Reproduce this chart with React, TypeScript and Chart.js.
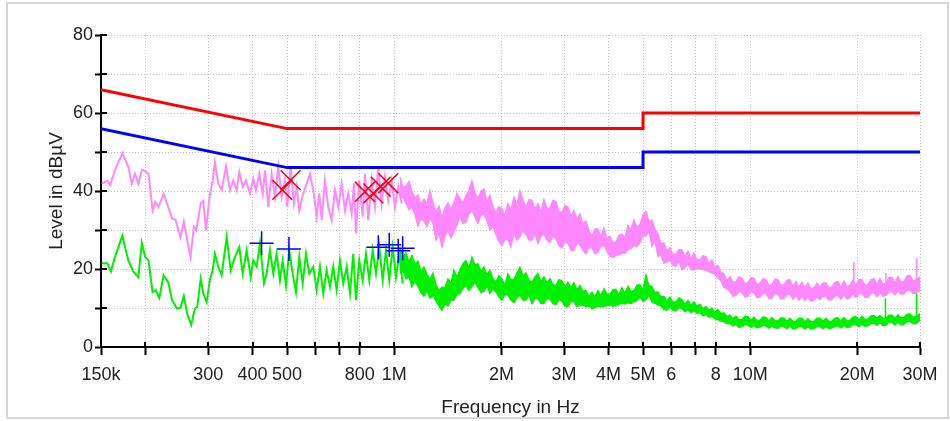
import React, { useEffect, useRef } from "react";
import { Chart, registerables } from "chart.js";

Chart.register(...registerables);

// ---- axis ticks ----
const xTickValues = [0.15, 0.2, 0.3, 0.4, 0.5, 0.6, 0.7, 0.8, 1, 2, 3, 4, 5, 6, 7, 8, 10, 20, 30];
const xTickLabels = ["150k", "", "300", "400", "500", "", "", "800", "1M", "2M", "3M", "4M", "5M", "6", "", "8", "10M", "20M", "30M"];
const yTickValues = [0, 10, 20, 30, 40, 50, 60, 70, 80];
const yTickLabels = ["0", "", "20", "", "40", "", "60", "", "80"];

// ---- limit lines (MHz, dBµV) ----
const limitFreq = [0.15, 0.5, 5, 5, 30];
const qpLimit = [66, 56, 56, 60, 60];
const avLimit = [56, 46, 46, 50, 50];

// ---- peak trace (pink), low-frequency part (kHz) ----
const peakFreqKHz = [150.7, 156.0, 159.0, 164.2, 172.2, 179.0, 183.0, 186.9, 191.0, 195.3, 199.6, 204.0, 209.4, 213.1, 217.7, 224.9, 229.9, 237.6, 242.7, 250.8, 256.3, 262.0, 267.6, 273.5, 277.8, 285.9, 290.7, 295.8, 302.2, 308.9, 313.5, 320.3, 327.4, 336.7, 345.5, 352.9, 360.8, 367.0, 375.1, 383.2, 393.2, 401.7, 408.8, 417.6, 426.9, 433.3, 442.6, 452.4, 462.2, 472.2, 482.7, 493.1, 500.5, 511.6, 522.6, 531.9, 540.9, 555.1, 567.4, 579.7, 592.2, 605.3, 615.6, 625.2, 638.7, 652.5, 667.0, 681.4, 696.1, 711.6, 727.0, 742.7, 759.1, 770.5, 780.6, 797.5, 815.1, 827.3, 845.2, 864.0, 882.6, 901.7, 921.7, 941.6, 961.9, 983.3, 1004.5, 1026, 1049];
const peakLevel = [41.9, 42.6, 41.5, 45.3, 49.7, 46.2, 41.9, 44.4, 41.9, 45.5, 45.1, 44.4, 35.0, 37.2, 35.9, 39.3, 36.8, 32.9, 32.7, 28.2, 32.1, 27.4, 23.1, 30.8, 29.9, 36.8, 37.5, 29.9, 38.0, 42.7, 47.4, 41.9, 40.2, 46.3, 40.2, 42.7, 40.2, 44.9, 41.1, 42.7, 39.3, 43.2, 40.2, 44.4, 39.3, 45.3, 35.9, 44.4, 38.5, 46.2, 38.5, 42.7, 35.9, 46.2, 36.8, 41.1, 35.0, 39.4, 41.9, 44.4, 40.2, 33.4, 39.4, 32.5, 42.7, 35.9, 32.5, 40.2, 35.9, 41.9, 35.0, 39.4, 34.2, 41.9, 29.1, 42.7, 33.4, 44.4, 32.5, 42.7, 35.9, 46.2, 36.8, 43.6, 37.6, 42.7, 35.9, 41.1, 36.8];

// ---- average trace (green), low-frequency part (kHz) ----
const avgFreqKHz = [150.7, 156.2, 160.0, 164.2, 172.2, 179.0, 184.9, 191.0, 195.3, 199.6, 204.0, 209.4, 214.0, 218.7, 224.9, 231.5, 237.6, 245.5, 250.8, 256.3, 262.0, 268.9, 275.2, 279.6, 285.9, 290.7, 297.1, 303.6, 308.9, 313.5, 320.3, 327.4, 338.2, 347.1, 356.8, 367.0, 375.1, 384.9, 395.0, 401.7, 410.6, 419.5, 430.5, 438.1, 447.5, 457.2, 467.3, 477.4, 485.8, 496.3, 507.0, 518.3, 529.5, 540.9, 553.0, 564.9, 577.1, 592.2, 605.3, 618.4, 631.7, 645.8, 659.7, 674.0, 688.9, 703.8, 719.0, 735.0, 750.9, 767.0, 780.6, 797.5, 815.1, 832.7, 850.7, 869.6, 888.4, 907.6, 927.8, 947.7, 968.2, 989.8, 1011, 1033, 1056];
const avgLevel = [21.5, 21.5, 19.4, 23.1, 28.5, 22.2, 19.4, 17.9, 26.7, 23.1, 22.2, 14.1, 14.5, 12.6, 18.4, 16.7, 12.0, 9.8, 10.1, 13.0, 8.5, 5.7, 9.8, 10.3, 17.5, 13.7, 11.5, 17.4, 19.7, 23.9, 20.6, 18.4, 28.2, 19.7, 23.1, 25.6, 18.8, 24.8, 17.9, 22.2, 20.6, 26.6, 16.3, 18.8, 24.8, 18.8, 23.9, 17.1, 22.2, 15.8, 24.8, 18.8, 14.1, 23.1, 16.3, 23.9, 18.8, 20.6, 14.6, 20.6, 13.7, 19.7, 15.4, 20.6, 14.6, 22.2, 16.3, 20.6, 13.7, 23.9, 12.0, 22.2, 17.1, 23.9, 17.1, 24.8, 18.8, 25.6, 17.1, 24.8, 17.1, 25.6, 17.9, 23.9, 16.3];

// ---- dense part (1 MHz .. 30 MHz): band envelopes (MHz) ----
const bandFreq = [
  1.0375, 1.0578, 1.0786, 1.0997, 1.1213, 1.1433, 1.1656, 1.1884, 1.2117, 1.2354,
  1.2597, 1.2844, 1.3095, 1.3352, 1.3614, 1.3881, 1.4152, 1.4429, 1.4712, 1.5,
  1.5294, 1.5594, 1.59, 1.6211, 1.6529, 1.6853, 1.7183, 1.752, 1.7863, 1.8213,
  1.857, 1.8934, 1.9305, 1.9683, 2.0069, 2.0462, 2.0863, 2.1272, 2.1689, 2.2114,
  2.2547, 2.2989, 2.3439, 2.3898, 2.4367, 2.4844, 2.5331, 2.5827, 2.6334, 2.685,
  2.7376, 2.7912, 2.8459, 2.9017, 2.9586, 3.0166, 3.0757, 3.136, 3.1974, 3.26,
  3.3239, 3.389, 3.4555, 3.5232, 3.5922, 3.6626, 3.7344, 3.8076, 3.8822, 3.9583,
  4.0358, 4.1149, 4.1955, 4.2777, 4.3616, 4.447, 4.5342, 4.623, 4.7136, 4.8059,
  4.9002, 4.9962, 5.0941, 5.1939, 5.2957, 5.3995, 5.5053, 5.6132, 5.7232, 5.8353,
  5.9497, 6.0663, 6.1851, 6.3063, 6.4299, 6.5559, 6.6844, 6.8154, 6.9489, 7.0851,
  7.2239, 7.3654, 7.5098, 7.657, 7.807, 7.96, 8.116, 8.275, 8.4372, 8.6025,
  8.7711, 8.943, 9.1182, 9.2969, 9.4791, 9.6648, 9.8542, 10.047, 10.244, 10.445,
  10.65, 10.859, 11.071, 11.288, 11.509, 11.735, 11.965, 12.199, 12.438, 12.682,
  12.931, 13.184, 13.442, 13.705, 13.974, 14.248, 14.527, 14.812, 15.102, 15.398,
  15.7, 16.008, 16.321, 16.641, 16.967, 17.299, 17.638, 17.984, 18.336, 18.695,
  19.062, 19.435, 19.816, 20.204, 20.6, 21.004, 21.416, 21.836, 22.263, 22.699,
  23.144, 23.597, 24.06, 24.531, 25.012, 25.502, 26.002, 26.511, 27.031, 27.561,
  28.101, 28.652, 29.213, 30.0,
];
const peakBandTop = [
  43.6, 41.0, 41.2, 42.5, 40.0, 38.2, 39.0, 36.6, 38.0, 36.8,
  40.2, 37.0, 34.6, 36.2, 33.2, 35.8, 37.0, 35.4, 37.1, 39.5,
  38.0, 37.1, 38.8, 40.2, 42.7, 39.5, 38.1, 40.0, 40.5, 37.4,
  39.0, 36.0, 34.4, 36.0, 35.5, 33.8, 36.8, 35.3, 38.5, 36.5,
  40.2, 37.7, 35.9, 37.8, 37.6, 35.4, 36.8, 34.6, 37.9, 35.5,
  35.7, 37.6, 37.3, 34.9, 34.5, 36.3, 35.9, 33.6, 35.0, 32.9,
  34.2, 31.6, 32.3, 30.0, 28.4, 30.3, 30.3, 28.4, 30.5, 27.8,
  28.4, 26.7, 27.0, 28.6, 29.0, 28.0, 31.2, 30.0, 32.6, 30.8,
  31.4, 33.9, 34.8, 32.2, 32.6, 30.2, 29.0, 26.6, 26.7, 24.6,
  25.5, 23.8, 23.8, 25.0, 25.0, 23.2, 24.6, 22.7, 24.1, 22.4,
  22.4, 23.4, 23.2, 21.4, 22.4, 20.6, 21.0, 19.2, 18.8, 17.0,
  18.1, 16.6, 16.8, 18.0, 17.7, 16.2, 16.6, 17.8, 17.7, 16.0,
  16.4, 17.5, 17.3, 15.9, 16.0, 17.4, 17.3, 15.8, 16.0, 17.1,
  17.3, 15.6, 16.8, 15.4, 16.6, 15.2, 16.4, 15.0, 15.2, 16.4,
  15.4, 16.4, 16.5, 15.2, 15.4, 16.6, 16.8, 15.4, 17.0, 15.6,
  15.8, 17.2, 15.9, 17.3, 17.3, 15.9, 16.0, 17.3, 17.5, 16.1,
  17.6, 16.2, 16.4, 17.8, 17.9, 16.5, 18.1, 16.7, 16.8, 18.2,
  18.4, 17.0, 17.1, 18.0,
];
const peakBandBottom = [
  37.6, 38.5, 36.8, 35.2, 36.0, 33.9, 31.0, 32.8, 32.4, 30.8,
  33.0, 31.6, 27.4, 29.0, 25.6, 28.3, 29.8, 28.0, 29.5, 31.3,
  33.4, 31.6, 32.0, 34.1, 35.0, 33.3, 31.6, 33.8, 34.0, 32.3,
  30.0, 30.9, 28.8, 27.0, 26.0, 27.7, 27.4, 25.6, 29.2, 27.4,
  28.2, 29.8, 28.9, 27.4, 27.4, 29.0, 26.5, 28.3, 29.0, 27.4,
  26.8, 28.4, 27.8, 26.0, 25.4, 27.1, 26.6, 24.8, 24.8, 26.6,
  26.2, 24.8, 23.9, 25.5, 25.4, 23.9, 24.2, 25.8, 26.0, 24.5,
  23.2, 23.0, 23.4, 23.6, 24.1, 24.0, 25.0, 25.2, 26.0, 25.8,
  26.7, 28.6, 28.4, 29.8, 25.8, 27.2, 23.2, 23.6, 21.5, 21.8,
  22.2, 20.9, 20.7, 22.0, 19.8, 20.4, 21.3, 19.8, 19.8, 20.2,
  20.0, 19.8, 19.6, 19.3, 19.0, 18.6, 17.6, 17.0, 15.2, 15.0,
  14.2, 13.0, 13.2, 14.3, 14.0, 12.8, 13.0, 14.1, 13.9, 12.6,
  12.8, 13.8, 13.6, 12.4, 12.5, 13.7, 13.5, 12.3, 12.4, 13.4,
  13.6, 12.2, 13.2, 12.0, 13.0, 11.9, 12.8, 11.8, 12.0, 12.9,
  12.1, 13.0, 13.0, 12.0, 12.2, 13.1, 13.2, 12.2, 13.4, 12.3,
  12.6, 13.6, 12.7, 13.7, 13.7, 12.7, 12.8, 13.7, 13.9, 12.9,
  14.0, 13.0, 13.2, 14.1, 14.2, 13.3, 14.4, 13.5, 13.6, 14.5,
  14.6, 13.7, 13.8, 14.5,
];
const avgBandTop = [
  25.6, 23.2, 24.2, 22.0, 23.5, 21.3, 22.0, 19.5, 20.5, 18.6,
  17.4, 19.0, 16.0, 14.4, 15.4, 15.2, 17.5, 16.4, 19.7, 18.0,
  19.8, 21.4, 22.2, 20.3, 23.1, 21.0, 21.4, 19.4, 20.5, 18.6,
  19.7, 17.5, 16.8, 18.3, 17.5, 15.9, 18.8, 17.2, 17.4, 19.0,
  20.5, 18.2, 19.0, 17.2, 16.6, 18.0, 18.8, 16.8, 18.0, 16.4,
  17.6, 16.0, 15.8, 17.3, 17.0, 15.4, 16.7, 15.2, 16.5, 14.8,
  15.8, 14.3, 14.5, 13.0, 14.1, 12.9, 14.5, 13.2, 15.0, 13.6,
  13.5, 14.7, 14.8, 13.4, 15.2, 13.8, 15.6, 14.2, 14.5, 15.9,
  16.0, 14.6, 18.5, 15.8, 15.5, 14.0, 14.2, 12.9, 13.0, 11.8,
  12.8, 11.6, 11.5, 12.6, 12.2, 11.0, 11.9, 10.8, 11.6, 10.4,
  11.0, 9.8, 10.4, 9.4, 10.0, 9.0, 9.6, 8.6, 8.8, 7.8,
  8.2, 7.3, 7.9, 7.0, 7.1, 7.9, 7.8, 6.9, 7.7, 6.8,
  6.9, 7.7, 7.6, 6.7, 7.6, 6.8, 6.7, 7.5, 7.4, 6.6,
  7.4, 6.6, 6.6, 7.4, 7.4, 6.5, 7.3, 6.5, 6.6, 7.4,
  7.4, 6.6, 7.4, 6.6, 6.6, 7.4, 7.5, 6.7, 7.6, 6.8,
  6.9, 7.7, 7.8, 7.0, 7.9, 7.1, 7.2, 8.0, 8.1, 7.3,
  8.1, 7.3, 7.4, 8.2, 8.2, 7.4, 8.3, 7.5, 7.6, 8.4,
  8.5, 7.7, 7.8, 8.6,
];
const avgBandBottom = [
  18.8, 19.6, 17.5, 18.0, 15.4, 16.8, 15.5, 14.0, 13.0, 14.4,
  12.5, 13.2, 11.8, 10.5, 9.4, 11.0, 10.5, 12.0, 12.0, 13.4,
  13.7, 15.0, 15.8, 14.5, 15.4, 16.6, 15.3, 14.0, 14.3, 15.6,
  13.7, 14.9, 14.1, 12.8, 12.0, 13.4, 13.3, 12.0, 11.3, 12.6,
  13.3, 12.0, 12.0, 13.3, 11.1, 12.4, 12.4, 11.1, 11.1, 12.4,
  12.3, 11.1, 10.9, 12.1, 11.8, 10.5, 10.3, 11.6, 11.6, 10.3,
  10.7, 10.8, 10.3, 10.5, 9.8, 10.1, 10.5, 10.3, 10.4, 10.6,
  10.7, 10.4, 10.6, 10.9, 11.2, 11.0, 11.3, 11.1, 11.6, 11.8,
  12.9, 11.7, 12.1, 13.3, 11.5, 11.2, 10.8, 10.5, 9.6, 9.4,
  10.3, 9.4, 9.2, 10.1, 9.9, 9.0, 9.5, 8.8, 9.3, 8.6,
  8.8, 8.0, 8.3, 7.6, 7.8, 7.2, 7.0, 6.6, 6.4, 6.0,
  6.0, 5.4, 5.8, 5.0, 5.2, 5.8, 5.6, 5.0, 5.5, 4.9,
  5.0, 5.6, 5.4, 4.8, 5.4, 4.9, 4.8, 5.4, 5.2, 4.7,
  5.3, 4.7, 4.7, 5.3, 5.2, 4.6, 5.1, 4.6, 4.7, 5.2,
  5.2, 4.7, 5.2, 4.7, 4.8, 5.3, 5.4, 4.9, 5.5, 5.0,
  5.1, 5.7, 5.8, 5.2, 5.9, 5.3, 5.4, 6.0, 6.1, 5.5,
  6.2, 5.5, 5.6, 6.3, 6.3, 5.6, 6.4, 5.7, 5.8, 6.5,
  6.6, 5.9, 6.0, 6.8,
];

// ---- isolated spikes (MHz) ----
const peakSpikeFreq = [19.56, 24.06, 29.34];
const peakSpikeTop = [21.8, 19.0, 22.8];
const peakSpikeBase = [16.0, 16.0, 17.0];
const avgSpikeFreq = [23.99, 29.34];
const avgSpikeTop = [12.5, 17.7];
const avgSpikeBase = [7.0, 7.5];

// ---- final measurement markers (kHz, dBµV) ----
const qpMarkFreqKHz = [484.6, 511.5, 827, 873, 916, 962];
const qpMarkLevel = [40.3, 42.8, 39.8, 39.4, 41.1, 42.0];
const avMarkFreqKHz = [424, 506, 902, 968, 1026, 1056];
const avMarkLevel = [26.6, 25.1, 25.6, 26.2, 24.7, 25.3];

const PINK = "#ff88ff";
const GREEN = "#00f000";
const FONT = '"Liberation Sans", Arial, sans-serif';

const pts = (xs: number[], ys: number[], k = 1) => xs.map((x, i) => ({ x: x * k, y: ys[i] }));
const spikes = (xs: number[], lo: number[], hi: number[]) => {
  const out: any[] = [];
  xs.forEach((x, i) => {
    out.push({ x, y: lo[i] }, { x, y: hi[i] }, { x, y: null });
  });
  return out;
};

const decorPlugin = {
  id: "decor",
  beforeDraw(chart: any) {
    const ctx = chart.ctx;
    ctx.save();
    ctx.fillStyle = "#ffffff";
    ctx.fillRect(0, 0, chart.width, chart.height);
    ctx.strokeStyle = "#d6d6d6";
    ctx.lineWidth = 2;
    ctx.strokeRect(7, 3, 941, 415);
    ctx.restore();
  },
  afterDraw(chart: any) {
    const { ctx, chartArea, scales } = chart;
    ctx.save();
    ctx.strokeStyle = "#000";
    ctx.lineWidth = 2;
    ctx.beginPath();
    scales.x.ticks.forEach((t: any) => {
      const px = Math.round(scales.x.getPixelForValue(t.value));
      ctx.moveTo(px, chartArea.bottom);
      ctx.lineTo(px, chartArea.bottom - 5);
    });
    scales.y.ticks.forEach((t: any) => {
      const py = Math.round(scales.y.getPixelForValue(t.value));
      ctx.moveTo(chartArea.left, py);
      ctx.lineTo(chartArea.left + 6, py);
    });
    ctx.stroke();
    ctx.restore();
  },
};

export default function App() {
  const ref = useRef<HTMLCanvasElement | null>(null);

  useEffect(() => {
    if (!ref.current) return;
    const line = (data: any[], color: string, width: number, extra: any = {}) => ({
      type: "line",
      data,
      borderColor: color,
      backgroundColor: color,
      borderWidth: width,
      pointRadius: 0,
      tension: 0,
      fill: false,
      ...extra,
    });

    const chart = new Chart(ref.current, {
      type: "line",
      data: {
        datasets: [
          {
            type: "line",
            data: pts(qpMarkFreqKHz, qpMarkLevel, 0.001),
            showLine: false,
            pointStyle: "crossRot",
            pointRadius: 14,
            borderColor: "#ff0000",
            backgroundColor: "#ff0000",
            pointBorderWidth: 1.5,
          },
          {
            type: "line",
            data: pts(avMarkFreqKHz, avMarkLevel, 0.001),
            showLine: false,
            pointStyle: "cross",
            pointRadius: 12,
            borderColor: "#0000ff",
            backgroundColor: "#0000ff",
            pointBorderWidth: 1.5,
          },
          line(pts(limitFreq, qpLimit), "#ff0000", 3),
          line(pts(limitFreq, avLimit), "#0000ff", 3),
          line(spikes(peakSpikeFreq, peakSpikeBase, peakSpikeTop), PINK, 1.5),
          line(pts(peakFreqKHz, peakLevel, 0.001), PINK, 2),
          line(pts(bandFreq, peakBandTop), PINK, 1.2, { fill: "+1" }),
          line(pts(bandFreq, peakBandBottom), PINK, 1.2),
          line(spikes(avgSpikeFreq, avgSpikeBase, avgSpikeTop), GREEN, 1.5),
          line(pts(avgFreqKHz, avgLevel, 0.001), GREEN, 2),
          line(pts(bandFreq, avgBandTop), GREEN, 1.2, { fill: "+1" }),
          line(pts(bandFreq, avgBandBottom), GREEN, 1.2),
        ] as any,
      },
      options: {
        responsive: false,
        animation: false,
        devicePixelRatio: 1,
        layout: { padding: { top: 35, right: 30, left: 0, bottom: 0 } },
        plugins: { legend: { display: false }, tooltip: { enabled: false } },
        scales: {
          x: {
            type: "logarithmic",
            min: 0.15,
            max: 30,
            afterBuildTicks: (scale: any) => {
              scale.ticks = xTickValues.map((v) => ({ value: v }));
            },
            afterFit: (scale: any) => {
              scale.height = 74;
            },
            ticks: {
              autoSkip: false,
              maxRotation: 0,
              minRotation: 0,
              padding: 9,
              color: "#222",
              font: { family: FONT, size: 18 },
              callback: (_v: any, i: number) => xTickLabels[i],
            },
            grid: {
              color: "#c4c4c4",
              lineWidth: 1,
              tickLength: 8,
              tickColor: "#000",
              tickWidth: 2,
              tickBorderDash: [],
            },
            border: { display: true, color: "#000", width: 2, dash: [1, 2] },
            title: {
              display: true,
              text: "Frequency in Hz",
              color: "#222",
              font: { family: FONT, size: 19 },
              padding: { top: 0, bottom: 1.5 },
            },
          },
          y: {
            type: "linear",
            min: 0,
            max: 80,
            afterBuildTicks: (scale: any) => {
              scale.ticks = yTickValues.map((v) => ({ value: v }));
            },
            afterFit: (scale: any) => {
              scale.width = 101;
            },
            ticks: {
              padding: 2,
              color: "#222",
              font: { family: FONT, size: 18 },
              callback: (_v: any, i: number) => yTickLabels[i],
            },
            grid: {
              color: "#c4c4c4",
              lineWidth: 1,
              tickLength: 6,
              tickColor: "#000",
              tickWidth: 2,
              tickBorderDash: [],
            },
            border: { display: true, color: "#000", width: 2, dash: [1, 2] },
            title: {
              display: true,
              text: "Level in dBµV",
              color: "#222",
              font: { family: FONT, size: 19 },
              padding: { top: 45.6, bottom: 0 },
            },
          },
        },
      },
      plugins: [decorPlugin],
    } as any);
    return () => chart.destroy();
  }, []);

  return (
    <div style={{ position: "fixed", left: 0, top: 0, width: 950, height: 421, background: "#fff" }}>
      <canvas ref={ref} width={950} height={421} style={{ display: "block" }} />
    </div>
  );
}
